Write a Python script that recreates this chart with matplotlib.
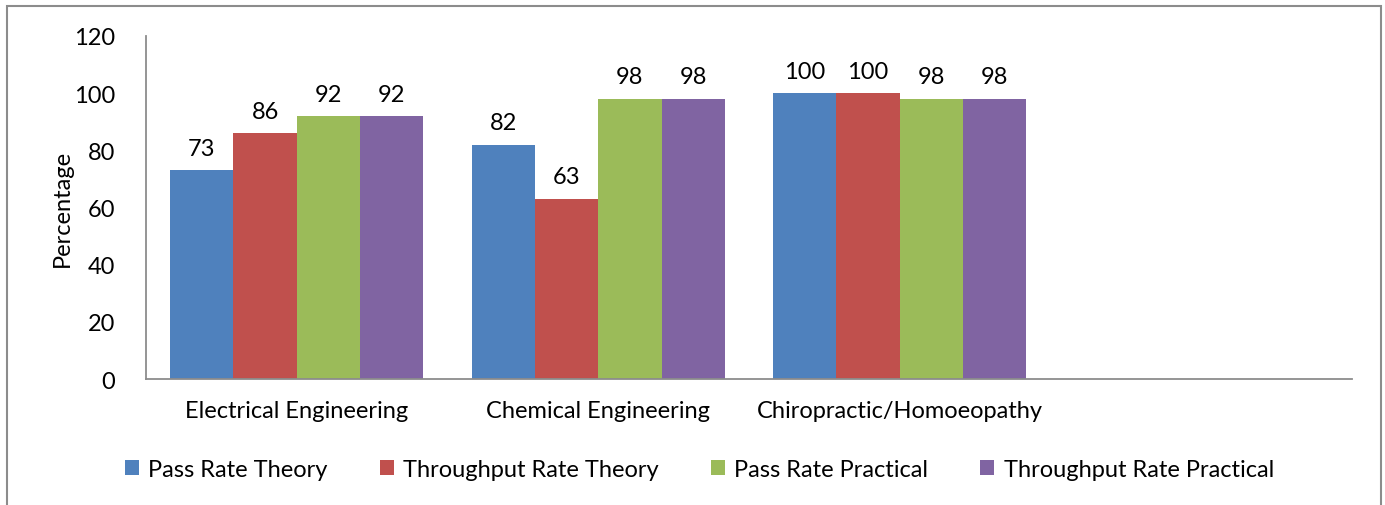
import numpy as np
import matplotlib.pyplot as plt
from matplotlib.patches import Rectangle

plt.rcParams['font.family'] = ['Lato', 'DejaVu Sans']

categories = ["Electrical Engineering", "Chemical Engineering", "Chiropractic/Homoeopathy", ""]
series_names = ["Pass Rate Theory", "Throughput Rate Theory", "Pass Rate Practical", "Throughput Rate Practical"]
pass_theory = [73, 82, 100]
throughput_theory = [86, 63, 100]
pass_practical = [92, 98, 98]
throughput_practical = [92, 98, 98]
colors = ["#4F81BD", "#C0504D", "#9BBB59", "#8064A2"]

series = [pass_theory, throughput_theory, pass_practical, throughput_practical]

fig = plt.figure(figsize=(13.85, 5.06), dpi=100)
ax = fig.add_axes([0.1054, 0.249, 0.8708, 0.678])

x = np.arange(len(pass_theory))
w = 0.21
for i, (vals, name, c) in enumerate(zip(series, series_names, colors)):
    bars = ax.bar(x + (i - 1.5) * w, vals, width=w, color=c, label=name)
    for b, v in zip(bars, vals):
        ax.text(b.get_x() + b.get_width() / 2, v + 4, str(v), ha="center",
                va="bottom", fontsize=17)

ax.set_xlim(-0.5, 3.5)
ax.set_ylim(0, 120)
ax.set_yticks(range(0, 121, 20))
ax.set_xticks(range(4))
ax.set_xticklabels(categories)
ax.tick_params(length=0, labelsize=17)
ax.tick_params(axis="y", pad=22)
ax.tick_params(axis="x", pad=15)
for s in ["top", "right"]:
    ax.spines[s].set_visible(False)
for s in ["left", "bottom"]:
    ax.spines[s].set_color("#8c8c8c")
    ax.spines[s].set_linewidth(1.3)
ax.set_ylabel("Percentage", fontsize=17, labelpad=1)

fig.legend(loc="center", bbox_to_anchor=(0.505, 0.07), ncol=4, frameon=False,
           fontsize=17, handlelength=0.6, handleheight=0.6, handletextpad=0.4,
           columnspacing=2.2)

fig.patches.append(Rectangle((0.005, -0.01), 0.992, 0.997, transform=fig.transFigure,
                             fill=False, edgecolor="#8c8c8c", linewidth=1.5))

fig.savefig("out.png", dpi=100)
